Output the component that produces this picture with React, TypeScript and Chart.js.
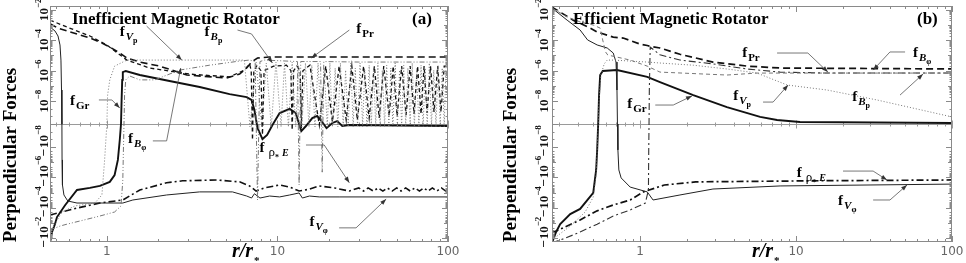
import React, { useEffect, useRef } from "react";
import { Chart, registerables } from "chart.js";
Chart.register(...registerables);

type P = [number, number];

// ---------------- Panel (a): Inefficient Magnetic Rotator ----------------
const A_fPr: P[] = [
  [0.464, 1.2e-3], [0.517, 6.3e-4], [0.583, 4.1e-4], [0.696, 2.2e-4], [0.795, 1.4e-4],
  [0.91, 7.6e-5], [1.04, 3.6e-5], [1.19, 1.45e-5], [1.31, 6.8e-6], [1.56, 3.7e-6],
  [2.04, 2e-6], [2.94, 5.2e-7], [5.03, 3.3e-7], [6.0, 6e-7], [6.6, 1.5e-6],
  [7.05, 3.7e-6], [7.64, 6.8e-6], [9.0, 8e-6], [100, 8e-6],
];
const A_fBp: P[] = [
  [0.464, 2.1e-3], [0.583, 7.4e-4], [0.795, 1.9e-4], [1.0, 4.9e-5], [1.31, 5e-6], [1.78, 1.5e-6],
  [3.06, 6e-7], [5.24, 3.9e-7], [6.4, 1.1e-6], [6.86, 2.8e-6], [7.02, 1e-6], [7.14, -7e-9],
  [7.27, 1e-6], [7.6, 2.3e-6], [8.0, 1e-6], [8.17, -4.8e-9], [8.35, 1e-6], [9.5, 2e-6],
  [11.3, 2.3e-6], [12.0, 1e-6], [12.2, -2.6e-9], [12.45, 1e-6], [13.0, 2e-6], [13.6, 1e-6],
  [13.8, -1.8e-9], [14.1, 1e-6], [15.5, 2.3e-6], [17.6, -4.4e-10], [19.2, 2e-6], [21.0, 8.8e-10],
  [23, 2e-6], [25.3, 1.75e-9], [27.3, 2e-6], [29.4, 1.75e-9], [32, 2e-6], [34.5, 2.6e-9],
  [37, 2e-6], [39.5, 2.6e-9], [42, 2e-6], [45.2, 3.5e-9], [47.7, 2e-6], [50.3, 3.5e-9],
  [53.5, 2e-6], [56.8, 3.9e-9], [60, 2e-6], [63.2, 4.4e-9], [66.3, 2e-6], [69.5, 4.4e-9],
  [72.4, 2e-6], [75.4, 4.8e-9], [79, 2e-6], [82.8, 5.3e-9], [87, 2e-6], [91, 5.3e-9],
  [95, 2e-6], [100, 2e-6],
];
const A_fVp: P[] = [
  [0.464, -3.9e-3], [0.496, -1.2e-3], [0.545, -1.9e-4], [0.65, -7.6e-5], [0.85, -4.9e-5],
  [0.935, -1.45e-5], [0.97, -7.2e-8], [1.0, 0], [1.01, 2.5e-8], [1.04, 2.5e-7], [1.11, 2e-6],
  [1.31, 5e-6], [1.78, 5e-6], [2.78, 5e-6], [4.58, 5e-6], [6.4, 5e-6],
  [6.9, -1.3e-9], [7.5, 3.7e-6], [8.1, -1.3e-9], [8.6, 3.2e-6], [9.2, -1.3e-9], [9.8, 3.7e-6],
  [10.5, -1.3e-9], [11.0, 3.2e-6], [11.6, -1.3e-9], [12.2, 3.7e-6], [12.8, -1.3e-9], [13.3, 2.3e-6],
  [13.9, -1.3e-9], [14.6, 3.2e-6], [15.3, -1.3e-9], [15.9, 2.3e-6], [16.6, -1.3e-9], [17.3, 3.2e-6],
  [18.1, -1.3e-9], [18.8, 1.5e-6], [19.6, -1.3e-9], [20.3, 3.2e-6], [21.0, -1.3e-9], [21.8, 1.5e-6],
  [22.6, -1.3e-9], [23.4, 3.2e-6], [24.3, -1.3e-9], [25.1, 1.1e-6], [26.0, -1.3e-9], [26.9, 3.2e-6],
  [27.8, -1.3e-9], [28.6, 1.5e-6], [29.5, -1.3e-9], [30.5, 3.2e-6], [31.6, -1.3e-9], [32.5, 1.1e-6],
  [33.5, -1.3e-9], [34.5, 2.3e-6], [35.5, -1.3e-9], [36.6, 1.5e-6], [37.7, -1.3e-9], [38.8, 3.2e-6],
  [40.0, -1.3e-9], [41.2, 1.1e-6], [42.5, -1.3e-9], [43.7, 2.3e-6], [45.0, -1.3e-9], [46.2, 1.5e-6],
  [47.5, -1.3e-9], [49, 3.2e-6], [50.5, -1.3e-9], [52, 1.1e-6], [53.5, -1.3e-9], [55, 2.3e-6],
  [56.5, -1.3e-9], [58.2, 1.5e-6], [60, -1.3e-9], [61.7, 3.2e-6], [63.5, -1.3e-9], [65.5, 1.1e-6],
  [67.5, -1.3e-9], [69.5, 2.3e-6], [71.5, -1.3e-9], [73.5, 1.5e-6], [75.5, -1.3e-9], [77.7, 3.2e-6],
  [80, -1.3e-9], [82.5, 1.1e-6], [85, -1.3e-9], [87.5, 2.3e-6], [90, -1.3e-9], [92.5, 1.5e-6],
  [95, -1.3e-9], [97.5, 3.2e-6], [100, 1e-6],
];
const A_fGr: P[] = [
  [0.464, -2e-2], [0.477, -3.9e-3], [0.496, -1.2e-3], [0.51, -4.1e-4], [0.57, -6.6e-5],
  [0.668, -6.8e-6], [0.795, -5e-6], [0.91, -3.7e-6], [1.04, -2e-6], [1.11, -7.1e-7],
  [1.16, -7.2e-8], [1.19, -7e-9], [1.21, 0], [1.22, 1.2e-8], [1.23, 2.5e-7], [1.24, 8.1e-7],
  [1.29, 9.6e-7], [1.56, 5.2e-7], [2.33, 2.1e-7], [3.5, 8.5e-8], [5.24, 2.9e-8], [6.6, 1.85e-8],
  [7.05, 1.2e-8], [7.33, 6.1e-9], [7.64, -1.75e-9], [8.17, -6.6e-9], [8.7, -4.8e-9],
  [9.35, -4.4e-10], [10.3, 4.8e-9], [11.8, 6.6e-9], [12.8, 4.8e-9], [13.8, -3.1e-9],
  [14.7, -8.8e-10], [16.0, 2.6e-9], [17.1, 3.5e-9], [18.3, 8.8e-10], [19.4, -1.75e-9],
  [21.0, 4.4e-10], [22.4, 1.3e-9], [24.0, -8.8e-10], [26.4, -4.4e-10], [100, -8.8e-10],
];
const A_fVphi: P[] = [
  [0.464, 7.4e-4], [0.496, 4.1e-4], [0.517, 1.9e-4], [0.531, 4.9e-5], [0.538, 5e-6],
  [0.542, 5.4e-8], [0.545, 0], [0.546, -7.2e-8], [0.549, -3.2e-6], [0.56, -1.45e-5],
  [0.59, -3.6e-5], [0.668, -4.9e-5], [0.91, -4.9e-5], [1.24, -4.9e-5], [1.42, -3.1e-5],
  [2.24, -1.45e-5], [3.5, -9.1e-6], [5.45, -9.1e-6], [6.6, -1.7e-5], [7.05, -2.3e-5],
  [7.33, -1.2e-5], [7.9, -2.3e-5], [9.0, -1.7e-5], [10.3, -1.95e-5], [11.8, -1.45e-5],
  [13.4, -1.07e-5], [14.0, -2.3e-5], [15.4, -1.7e-5], [17.6, -1.95e-5], [23, -1.95e-5],
  [100, -1.95e-5],
];
const A_fBphi: P[] = [
  [0.464, -2.9e-3], [0.531, -1.6e-3], [0.583, -1.2e-3], [0.696, -7.4e-4], [0.91, -3.5e-4],
  [1.11, -1.9e-4], [1.21, -7.6e-5], [1.24, -1.5e-6], [1.25, -1.6e-8], [1.26, 0], [1.27, 2.5e-8],
  [1.29, 2.5e-7], [1.36, 4.5e-7], [1.56, 2.5e-7], [1.91, 2.5e-7], [2.67, 1.1e-6], [4.0, 2.3e-6],
  [6.0, 4.3e-6], [6.86, 5e-6], [7.4, 4e-6], [7.64, -3.1e-5], [7.9, 4e-6], [8.4, 5e-6],
  [13.1, 4e-6], [13.4, -3.2e-6], [13.7, 4e-6], [17.9, 4e-6], [18.3, -4.6e-7], [18.7, 4e-6],
  [30, 3.7e-6], [100, 3.7e-6],
];
const A_fRhoE: P[] = [
  [0.464, -3e-4], [0.668, -1.05e-4], [0.91, -4.9e-5], [1.24, -3.1e-5], [1.56, -6.8e-6],
  [2.24, -2.3e-6], [2.78, -1.7e-6], [4.4, -1.5e-6], [6.0, -2e-6], [6.86, -3.7e-6], [7.5, -8e-6],
  [8.4, -5e-6], [10.3, -3.2e-6], [11.8, -4.4e-6], [13.4, -8e-6], [15.4, -6e-6], [17.6, -3.7e-6],
  [21.6, -5e-6], [26.4, -8e-6], [30, -5e-6], [32, -8e-6], [34, -5e-6], [36.5, -8e-6], [39, -5e-6],
  [41.5, -8e-6], [44, -5e-6], [47, -8e-6], [50, -5e-6], [53, -8e-6], [56.5, -5e-6], [60, -8e-6],
  [64, -5e-6], [68, -8e-6], [72, -5e-6], [76.5, -8e-6], [81, -5e-6], [86, -8e-6], [91.5, -5e-6],
  [97, -8e-6], [100, -6e-6],
];

// ---------------- Panel (b): Efficient Magnetic Rotator ----------------
const B_fBphi: P[] = [
  [0.272, 1.5e-2], [0.372, 2.1e-3], [0.478, 6.3e-4], [0.53, 3.5e-4], [0.672, 1.6e-4],
  [0.778, 1.4e-4], [1.0, 5.6e-5], [1.11, 4.5e-5], [1.16, 4e-5], [1.34, 3.1e-5], [1.8, 1.2e-5],
  [2.93, 3.7e-6], [4.85, 2e-6], [7.9, 1.5e-6], [100, 1.3e-6],
];
const B_fPr: P[] = [
  [0.272, -2e-2], [0.331, -1e-2], [0.412, -3.9e-3], [0.53, -1.2e-3], [0.672, -3.5e-4],
  [0.863, -1.4e-4], [1.08, -4.9e-5], [1.13, -6.8e-6], [1.135, -1.6e-8], [1.14, 0],
  [1.145, 5.4e-8], [1.16, 3.6e-5], [1.34, 1.1e-5], [1.8, 5e-6], [2.93, 2.8e-6],
  [4.85, 1.3e-6], [7.9, 8.1e-7], [16.5, 7e-7], [100, 7e-7],
];
const B_fBp: P[] = [
  [0.272, 1.3e-2], [0.34, 3.4e-3], [0.412, 1.6e-3], [0.5, 1e-3], [0.554, 6.3e-4],
  [0.575, 1.05e-4], [0.6, 1.7e-5], [0.62, 1.07e-5], [0.863, 5e-6], [1.11, 2e-6],
  [1.34, 8.1e-7], [3.6, 5.2e-7], [5.62, 7e-7], [100, 7e-7],
];
const B_fVp: P[] = [
  [0.272, -1.3e-2], [0.356, -1.6e-3], [0.444, -1.9e-4], [0.5, -2e-5], [0.522, -7.1e-7],
  [0.53, -1.6e-8], [0.538, 0], [0.545, 1.2e-8], [0.56, 5.2e-7], [0.588, 2.8e-6],
  [0.615, 5e-6], [0.672, 5e-6], [1.11, 3.7e-6], [1.34, 3.2e-6], [2.19, 2.3e-6], [3.6, 1.3e-6],
  [5.62, 7e-7], [8.76, 1.15e-7], [15.8, 5.4e-8], [33, 1.2e-8], [100, 3.1e-9],
];
const B_fGr: P[] = [
  [0.272, -2e-2], [0.289, -3.9e-3], [0.307, -1.2e-3], [0.356, -2.6e-4], [0.412, -1.2e-4],
  [0.5, -1.07e-5], [0.522, -3.3e-7], [0.53, -1.6e-8], [0.538, 0], [0.545, 2.5e-8],
  [0.554, 5.2e-7], [0.575, 9.6e-7], [0.71, 1.1e-6], [1.11, 3.9e-7], [1.34, 1.8e-7],
  [2.19, 2.5e-8], [3.6, 7.4e-9], [5.88, 3.1e-9], [7.55, 1.75e-9], [10.6, 8.8e-10], [100, 4.4e-10],
];
const B_fVphi: P[] = [
  [0.272, 1.3e-2], [0.34, 2.1e-3], [0.412, 4.7e-4], [0.46, 1.05e-4], [0.53, 4.9e-5],
  [0.615, 3.1e-5], [0.672, 1.45e-5], [0.7, 3.7e-6], [0.71, 5.4e-8], [0.715, 0], [0.72, -1.6e-8],
  [0.73, -3.3e-7], [0.755, -1.1e-6], [0.863, -4.4e-6], [1.11, -9.1e-6], [1.21, -3.1e-5],
  [1.8, -1.45e-5], [2.93, -5.9e-6], [7.9, -3.7e-6], [100, -2.8e-6],
];
const B_fRhoE: P[] = [
  [0.272, -4.6e-3], [0.412, -6.3e-4], [0.53, -1.6e-4], [0.672, -6.6e-5], [0.863, -3.1e-5],
  [1.05, -9.1e-6], [1.43, -3.2e-6], [2.27, -2e-6], [12.9, -1.7e-6], [100, -1.5e-6],
];

// y tick values (symmetric-log axis) and x range
const Y_TICKS = [1e-2, 1e-4, 1e-6, 1e-8, -1e-8, -1e-6, -1e-4, -1e-2];
const X_TICK_LABELS = [1, 10, 100];
const A_XMIN = 0.464;
const B_XMIN = 0.272;
const X_MAX = 100;

// ---------------- helpers ----------------
const LIN = 1e-8;
const LW = 1.5;
const sl = (v: number) => {
  const a = Math.abs(v);
  if (a <= LIN) return (v / LIN) * LW;
  return Math.sign(v) * (LW + Math.log10(a / LIN));
};

const SERIF = '"Liberation Serif", "Times New Roman", serif';
const F = `bold 15px ${SERIF}`;
const S = `bold 11px ${SERIF}`;
const SI = `italic bold 11px ${SERIF}`;
const SS = `bold 8px ${SERIF}`;
type Run = { t: string; f: string; dy?: number; dx?: number };
const L_PR: Run[] = [{ t: "f", f: F }, { t: "Pr", f: S, dy: 4, dx: 1 }];
const L_GR: Run[] = [{ t: "f", f: F }, { t: "Gr", f: S, dy: 4, dx: 1 }];
const L_VP: Run[] = [{ t: "f", f: F }, { t: "V", f: SI, dy: 4, dx: 1 }, { t: "p", f: SS, dy: 7 }];
const L_BP: Run[] = [{ t: "f", f: F }, { t: "B", f: SI, dy: 4, dx: 1 }, { t: "p", f: SS, dy: 7 }];
const L_BPHI: Run[] = [{ t: "f", f: F }, { t: "B", f: SI, dy: 4, dx: 1 }, { t: "φ", f: SS, dy: 7 }];
const L_VPHI: Run[] = [{ t: "f", f: F }, { t: "V", f: SI, dy: 4, dx: 1 }, { t: "φ", f: SS, dy: 7 }];
const L_RHOE: Run[] = [
  { t: "f", f: F },
  { t: "ρ", f: `13px ${SERIF}`, dy: 4, dx: 4 },
  { t: "*", f: SS, dy: 8 },
  { t: "E", f: `italic bold 10px ${SERIF}`, dy: 4, dx: 3 },
];

type Ann = { runs: Run[]; at: P; arrow: P[] };
type Series = { pts: P[]; color: string; width: number; dash: number[] };
type Panel = {
  xMin: number;
  pad: { left: number; right: number; top: number; bottom: number };
  title: string;
  titleX: number;
  titleW: number;
  tag: string;
  tagX: number;
  yTitleX: number;
  yLabelX: number;
  xTitleX: number;
  series: Series[];
  anns: Ann[];
};

const BLACK = "#111";
const GRAY = "#777";

const PANEL_A: Panel = {
  xMin: A_XMIN,
  pad: { left: 50, right: 35, top: 6, bottom: 21 },
  title: "Inefficient Magnetic Rotator",
  titleX: 72,
  titleW: 233,
  tag: "(a)",
  tagX: 412,
  yTitleX: 11,
  yLabelX: 45,
  xTitleX: 232,
  series: [
    { pts: A_fVp, color: GRAY, width: 1, dash: [1, 2] },
    { pts: A_fBphi, color: GRAY, width: 1, dash: [5, 2, 1, 2, 1, 2] },
    { pts: A_fVphi, color: "#222", width: 1, dash: [] },
    { pts: A_fBp, color: BLACK, width: 1.3, dash: [4, 3] },
    { pts: A_fPr, color: BLACK, width: 1.6, dash: [7, 4] },
    { pts: A_fRhoE, color: BLACK, width: 1.6, dash: [7, 3, 2, 3] },
    { pts: A_fGr, color: BLACK, width: 1.9, dash: [] },
  ],
  anns: [
    { runs: L_VP, at: [1.19, 1.9e-4], arrow: [[1.71, 8.5e-4], [2.75, 5e-6]] },
    { runs: L_BP, at: [3.74, 1.9e-4], arrow: [[5.83, 4.7e-4], [7.05, 2.6e-4], [9.35, 3.2e-6]] },
    { runs: L_PR, at: [29, 3e-4], arrow: [[26.4, 4.7e-4], [15.8, 6.8e-6]] },
    { runs: L_GR, at: [0.607, 8.3e-9], arrow: [[0.898, 1.2e-8], [1.07, 1.2e-8], [1.19, 7e-9]] },
    { runs: L_BPHI, at: [1.33, -8.3e-9], arrow: [[1.86, -7.4e-9], [2.24, -7.4e-9], [2.71, 1.5e-6]] },
    { runs: L_RHOE, at: [7.85, -2.2e-8], arrow: [[14.7, -9.2e-9], [18.8, -9.2e-9], [26.4, -2.3e-6]] },
    { runs: L_VPHI, at: [15.4, -1.6e-3], arrow: [[23, -2.1e-3], [28.9, -2.1e-3], [43.4, -2.7e-5]] },
  ],
};

const PANEL_B: Panel = {
  xMin: B_XMIN,
  pad: { left: 69, right: 14, top: 6, bottom: 21 },
  title: "Efficient Magnetic Rotator",
  titleX: 90,
  titleW: 222,
  tag: "(b)",
  tagX: 434,
  yTitleX: 28,
  yLabelX: 62,
  xTitleX: 269,
  series: [
    { pts: B_fVp, color: GRAY, width: 1, dash: [1, 2] },
    { pts: B_fBp, color: GRAY, width: 1, dash: [4, 3] },
    { pts: B_fVphi, color: "#222", width: 1, dash: [] },
    { pts: B_fPr, color: "#333", width: 1.1, dash: [7, 3, 2, 3] },
    { pts: B_fBphi, color: BLACK, width: 1.7, dash: [7, 4] },
    { pts: B_fRhoE, color: BLACK, width: 1.7, dash: [7, 3, 2, 3] },
    { pts: B_fGr, color: BLACK, width: 1.9, dash: [] },
  ],
  anns: [
    { runs: L_PR, at: [4.51, 8e-6], arrow: [[7.55, 1.45e-5], [11.9, 1.45e-5], [16.0, 8.1e-7]] },
    { runs: L_BPHI, at: [56.2, 8e-6], arrow: [[50, 1.7e-5], [40, 1.7e-5], [31.2, 1.1e-6]] },
    { runs: L_GR, at: [0.825, 7e-9], arrow: [[1.25, 8.3e-9], [1.63, 8.3e-9], [2.15, 2.2e-8]] },
    { runs: L_VP, at: [3.95, 1.2e-8], arrow: [[6.14, 9.6e-9], [7.12, 9.6e-9], [8.89, 1.15e-7]] },
    { runs: L_BP, at: [22.9, 1.1e-8], arrow: [[46.4, 2.5e-8], [65.2, 6e-7]] },
    { runs: L_RHOE, at: [10.1, -9.6e-7], arrow: [[20, -3.9e-7], [31.2, -3.9e-7], [38.3, -1.5e-6]] },
    { runs: L_VPHI, at: [18.6, -6.6e-5], arrow: [[31.2, -3.1e-5], [40, -3.1e-5], [51.5, -3.2e-6]] },
  ],
};

function xTickList(min: number) {
  const out: { v: number; major: boolean }[] = [];
  for (let e = -1; e <= 2; e++) {
    for (let m = 1; m <= 9; m++) {
      const v = m * Math.pow(10, e);
      if (v >= min * 0.999 && v <= X_MAX * 1.0001) out.push({ v, major: m === 1 });
    }
  }
  return out;
}

function yTickList() {
  const out: { t: number; len: number }[] = [];
  for (const s of [1, -1]) {
    for (let d = 0; d < 7; d++) {
      const base = LW + d;
      if (base <= 7.75) out.push({ t: s * base, len: d % 2 === 0 ? 6 : 4 });
      if (d < 6) {
        for (let m = 2; m <= 9; m++) out.push({ t: s * (base + Math.log10(m)), len: 2.5 });
      }
    }
    out.push({ t: s * 0.5, len: 2.5 }, { t: s * 1.0, len: 2.5 });
  }
  out.push({ t: 0, len: 6 });
  return out;
}

function drawRuns(ctx: CanvasRenderingContext2D, x: number, y: number, runs: Run[]) {
  let cx = x;
  ctx.textAlign = "left";
  ctx.textBaseline = "alphabetic";
  for (const r of runs) {
    ctx.font = r.f;
    cx += r.dx || 0;
    ctx.fillText(r.t, cx, y + (r.dy || 0));
    cx += ctx.measureText(r.t).width;
  }
}

function makeDecor(p: Panel) {
  return {
    id: "decor",
    beforeDatasetsDraw(chart: any) {
      const { ctx, chartArea: ca, scales } = chart;
      const x = scales.x;
      const y = scales.y;
      const zy = Math.round(y.getPixelForValue(0)) + 0.5;
      ctx.save();
      ctx.strokeStyle = "#9a9a9a";
      ctx.lineWidth = 1;
      ctx.beginPath();
      ctx.moveTo(ca.left, zy);
      ctx.lineTo(ca.right, zy);
      for (const tk of xTickList(p.xMin)) {
        const px = Math.round(x.getPixelForValue(tk.v)) + 0.5;
        const l = tk.major ? 4 : 2;
        ctx.moveTo(px, zy - l);
        ctx.lineTo(px, zy + l);
      }
      ctx.stroke();
      ctx.restore();
    },
    afterDatasetsDraw(chart: any) {
      const { ctx, chartArea: ca, scales } = chart;
      const x = scales.x;
      const y = scales.y;
      ctx.save();
      // frame
      ctx.strokeStyle = "#8a8a8a";
      ctx.lineWidth = 1;
      ctx.strokeRect(ca.left + 0.5, ca.top + 0.5, ca.right - ca.left - 1, ca.bottom - ca.top - 1);
      // x ticks
      ctx.beginPath();
      for (const tk of xTickList(p.xMin)) {
        const px = Math.round(x.getPixelForValue(tk.v)) + 0.5;
        const l = tk.major ? 6 : 3;
        ctx.moveTo(px, ca.bottom);
        ctx.lineTo(px, ca.bottom - l);
        ctx.moveTo(px, ca.top);
        ctx.lineTo(px, ca.top + l);
      }
      // y ticks
      for (const tk of yTickList()) {
        const py = Math.round(y.getPixelForValue(tk.t)) + 0.5;
        if (py < ca.top || py > ca.bottom) continue;
        ctx.moveTo(ca.left, py);
        ctx.lineTo(ca.left + tk.len, py);
        ctx.moveTo(ca.right, py);
        ctx.lineTo(ca.right - tk.len, py);
      }
      ctx.stroke();

      // x tick labels
      ctx.fillStyle = "#666";
      ctx.font = `12px "DejaVu Sans", sans-serif`;
      ctx.textAlign = "center";
      ctx.textBaseline = "top";
      for (const v of X_TICK_LABELS) {
        const px = x.getPixelForValue(v);
        ctx.fillText(String(v), px, ca.bottom + 4);
      }

      // y tick labels (rotated, with superscript)
      ctx.fillStyle = "#111";
      for (const v of Y_TICKS) {
        const py = y.getPixelForValue(sl(v)) + (v < 0 ? -6 : 0);
        const base = v < 0 ? "\u2212\u200a10" : "10";
        const exp = "\u2212" + String(Math.round(-Math.log10(Math.abs(v))));
        ctx.save();
        ctx.translate(p.yLabelX, py);
        ctx.rotate(-Math.PI / 2);
        ctx.textBaseline = "middle";
        ctx.textAlign = "left";
        const fb = `bold 13px ${SERIF}`;
        const fs = `bold 9px ${SERIF}`;
        ctx.font = fb;
        const w1 = ctx.measureText(base).width;
        ctx.font = fs;
        const w2 = ctx.measureText(exp).width;
        const x0 = -(w1 + w2) / 2;
        ctx.font = fb;
        ctx.fillText(base, x0, 0);
        ctx.font = fs;
        ctx.fillText(exp, x0 + w1, -6);
        ctx.restore();
      }

      // y title
      ctx.save();
      ctx.translate(p.yTitleX, 155);
      ctx.rotate(-Math.PI / 2);
      ctx.font = `bold 19px ${SERIF}`;
      ctx.textAlign = "center";
      ctx.textBaseline = "middle";
      ctx.fillStyle = "#000";
      ctx.fillText("Perpendicular Forces", 0, 0, 184);
      ctx.restore();

      // x title r/r*
      ctx.fillStyle = "#000";
      ctx.textAlign = "left";
      ctx.textBaseline = "alphabetic";
      ctx.font = `italic bold 20px ${SERIF}`;
      ctx.fillText("r/r", p.xTitleX, 257);
      const wr = ctx.measureText("r/r").width;
      ctx.font = `bold 11px ${SERIF}`;
      ctx.fillText("*", p.xTitleX + wr + 1, 264);

      // panel title and tag
      ctx.font = `bold 17px ${SERIF}`;
      ctx.fillText(p.title, p.titleX, 24, p.titleW);
      ctx.fillText(p.tag, p.tagX, 24);

      // annotations
      for (const a of p.anns) {
        const lx = x.getPixelForValue(a.at[0]);
        const ly = y.getPixelForValue(sl(a.at[1]));
        ctx.fillStyle = "#000";
        drawRuns(ctx, lx, ly, a.runs);
        const pts = a.arrow.map(([r, v]) => [x.getPixelForValue(r), y.getPixelForValue(sl(v))]);
        ctx.strokeStyle = "#555";
        ctx.lineWidth = 0.8;
        ctx.beginPath();
        pts.forEach(([px, py], i) => (i === 0 ? ctx.moveTo(px, py) : ctx.lineTo(px, py)));
        ctx.stroke();
        const [x1, y1] = pts[pts.length - 2];
        const [x2, y2] = pts[pts.length - 1];
        const ang = Math.atan2(y2 - y1, x2 - x1);
        ctx.fillStyle = "#333";
        ctx.beginPath();
        ctx.moveTo(x2, y2);
        ctx.lineTo(x2 - 6 * Math.cos(ang) + 2.2 * Math.sin(ang), y2 - 6 * Math.sin(ang) - 2.2 * Math.cos(ang));
        ctx.lineTo(x2 - 6 * Math.cos(ang) - 2.2 * Math.sin(ang), y2 - 6 * Math.sin(ang) + 2.2 * Math.cos(ang));
        ctx.closePath();
        ctx.fill();
      }
      ctx.restore();
    },
  };
}

function buildChart(canvas: HTMLCanvasElement, p: Panel) {
  return new Chart(canvas, {
    type: "line",
    data: {
      datasets: p.series.map((s) => ({
        data: s.pts.map(([r, v]) => ({ x: r, y: sl(v) })),
        borderColor: s.color,
        borderWidth: s.width,
        borderDash: s.dash,
        pointRadius: 0,
        fill: false,
        tension: 0,
      })),
    },
    options: {
      animation: false,
      responsive: false,
      devicePixelRatio: 1,
      parsing: false,
      events: [],
      layout: { padding: p.pad },
      plugins: { legend: { display: false }, tooltip: { enabled: false } },
      scales: {
        x: { type: "logarithmic", min: p.xMin, max: X_MAX, display: false },
        y: { type: "linear", min: -7.75, max: 7.75, display: false },
      },
    } as any,
    plugins: [makeDecor(p) as any],
  });
}

export default function App() {
  const refA = useRef<HTMLCanvasElement>(null);
  const refB = useRef<HTMLCanvasElement>(null);
  useEffect(() => {
    document.body.style.margin = "0";
    const a = buildChart(refA.current!, PANEL_A);
    const b = buildChart(refB.current!, PANEL_B);
    return () => {
      a.destroy();
      b.destroy();
    };
  }, []);
  return (
    <div style={{ position: "relative", width: 966, height: 263, background: "#fff", overflow: "hidden" }}>
      <canvas ref={refA} width={483} height={263} style={{ position: "absolute", left: 0, top: 0, width: 483, height: 263 }} />
      <canvas ref={refB} width={483} height={263} style={{ position: "absolute", left: 483, top: 0, width: 483, height: 263 }} />
    </div>
  );
}
